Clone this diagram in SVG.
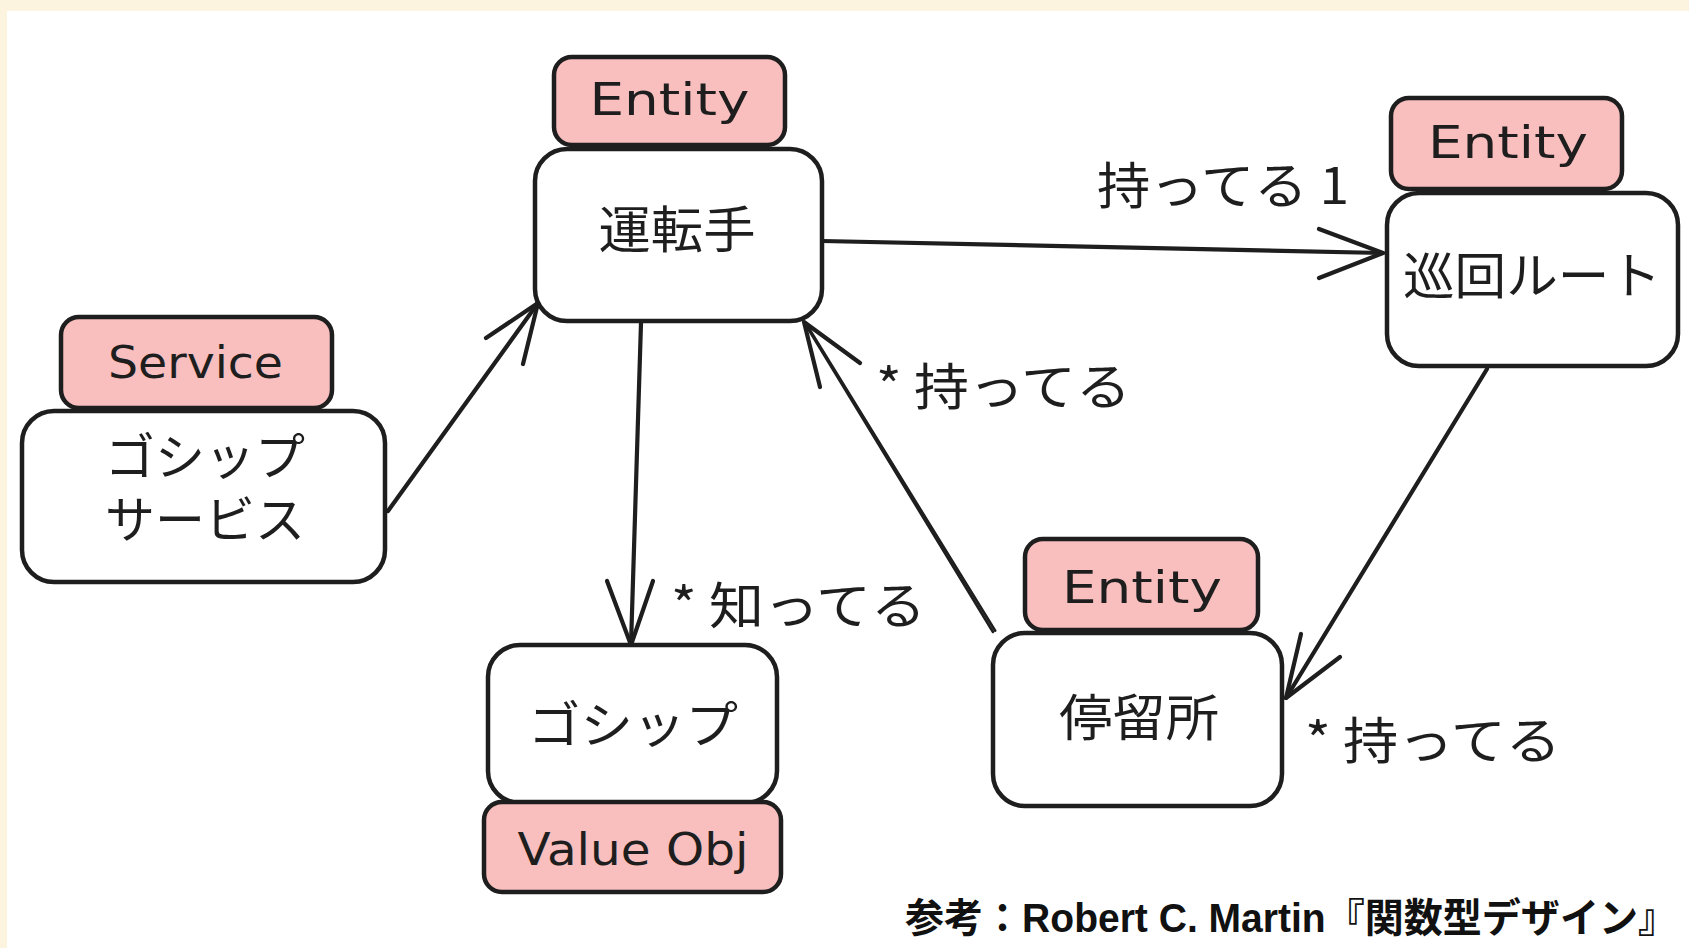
<svg xmlns="http://www.w3.org/2000/svg" width="1689" height="948" viewBox="0 0 1689 948">
  <style>
    .box { fill: #ffffff; stroke: #1e1e1e; stroke-width: 4.5; }
    .tag { fill: #f9bebe; stroke: #1e1e1e; stroke-width: 4.5; }
    .jp { font-family: "Noto Sans CJK JP", "Noto Sans", sans-serif; font-size: 50px; fill: #1e1e1e; text-anchor: middle; }
    .lbl { font-family: "Noto Sans CJK JP", "Noto Sans", sans-serif; font-size: 50px; fill: #1e1e1e; }
    .tg { font-family: "DejaVu Sans", sans-serif; font-size: 44px; fill: #1e1e1e; text-anchor: middle; }
    .edge { fill: none; stroke: #1e1e1e; stroke-width: 4.2; stroke-linecap: round; stroke-linejoin: round; }
    .thin { fill: none; stroke: #1e1e1e; stroke-width: 2.6; stroke-linecap: round; }
    .foot { font-family: "Liberation Sans", "Noto Sans CJK JP", sans-serif; font-weight: bold; font-size: 40px; fill: #111111; }
  </style>

  <!-- page background -->
  <rect x="0" y="0" width="1689" height="948" fill="#fcf4df"/>
  <rect x="7" y="11" width="1682" height="937" fill="#ffffff"/>

  <!-- connectors -->
  <g id="connectors">
    <!-- 運転手 -> 巡回ルート -->
    <line class="edge" x1="822" y1="241" x2="1383" y2="253"/>
    <polyline class="edge" points="1319,229 1383,253 1319,278"/>
    <text class="lbl" x="1097" y="204" textLength="252" lengthAdjust="spacingAndGlyphs">持ってる 1</text>

    <!-- ゴシップサービス -> 運転手 -->
    <line class="edge" x1="388" y1="511" x2="538" y2="303"/>
    <polyline class="edge" points="486,338 538,303 523,364"/>

    <!-- 運転手 -> ゴシップ -->
    <line class="edge" x1="641" y1="323" x2="631" y2="645"/>
    <polyline class="edge" points="607,581 631,645 653,581"/>
    <text class="lbl" x="671" y="624" textLength="255" lengthAdjust="spacingAndGlyphs">* 知ってる</text>

    <!-- 停留所 -> 運転手 (double stroke) -->
    <line class="thin" x1="993" y1="632" x2="804" y2="322"/>
    <line class="thin" x1="995.2" y1="630.7" x2="805" y2="322"/>
    <polyline class="edge" points="820,387 804,322 860,363"/>
    <text class="lbl" x="876" y="405" textLength="255" lengthAdjust="spacingAndGlyphs">* 持ってる</text>

    <!-- 巡回ルート -> 停留所 -->
    <line class="edge" x1="1487" y1="369" x2="1286" y2="698"/>
    <polyline class="edge" points="1301,634 1286,698 1340,657"/>
    <text class="lbl" x="1305" y="759" textLength="256" lengthAdjust="spacingAndGlyphs">* 持ってる</text>
  </g>

  <!-- 運転手 -->
  <g id="n-driver">
    <rect class="tag" x="554" y="57" width="231" height="88" rx="18"/>
    <text class="tg" x="669.5" y="115" textLength="160" lengthAdjust="spacingAndGlyphs">Entity</text>
    <rect class="box" x="535" y="149" width="287" height="172" rx="32"/>
    <text class="jp" x="677" y="248" textLength="157" lengthAdjust="spacingAndGlyphs">運転手</text>
  </g>

  <!-- 巡回ルート -->
  <g id="n-route">
    <rect class="tag" x="1391" y="98" width="231" height="91" rx="18"/>
    <text class="tg" x="1508" y="158" textLength="160" lengthAdjust="spacingAndGlyphs">Entity</text>
    <rect class="box" x="1387" y="193" width="291" height="173" rx="32"/>
    <text class="jp" x="1532" y="294" textLength="258" lengthAdjust="spacingAndGlyphs">巡回ルート</text>
  </g>

  <!-- ゴシップサービス (two-line name) -->
  <g id="n-gossip-service">
    <rect class="tag" x="61" y="317" width="271" height="91" rx="18"/>
    <text class="tg" x="195.5" y="378" textLength="175" lengthAdjust="spacingAndGlyphs">Service</text>
    <rect class="box" x="22" y="411" width="363" height="171" rx="32"/>
    <text class="jp"><tspan x="205" y="475">ゴシップ</tspan><tspan x="205" y="538">サービス</tspan></text>
  </g>

  <!-- ゴシップ -->
  <g id="n-gossip">
    <rect class="box" x="488" y="645" width="289" height="158" rx="32"/>
    <text class="jp" x="633" y="743" textLength="210" lengthAdjust="spacingAndGlyphs">ゴシップ</text>
    <rect class="tag" x="484" y="802" width="297" height="90" rx="18"/>
    <text class="tg" x="633" y="865" textLength="231" lengthAdjust="spacingAndGlyphs">Value Obj</text>
  </g>

  <!-- 停留所 -->
  <g id="n-stop">
    <rect class="tag" x="1025" y="539" width="233" height="91" rx="18"/>
    <text class="tg" x="1142" y="603" textLength="160" lengthAdjust="spacingAndGlyphs">Entity</text>
    <rect class="box" x="993" y="633" width="289" height="173" rx="32"/>
    <text class="jp" x="1139" y="736" textLength="160" lengthAdjust="spacingAndGlyphs">停留所</text>
  </g>

  <!-- reference note -->
  <g id="footer">
    <text class="foot" x="905" y="932" textLength="772" lengthAdjust="spacingAndGlyphs">参考：Robert C. Martin『関数型デザイン』</text>
  </g>
</svg>
